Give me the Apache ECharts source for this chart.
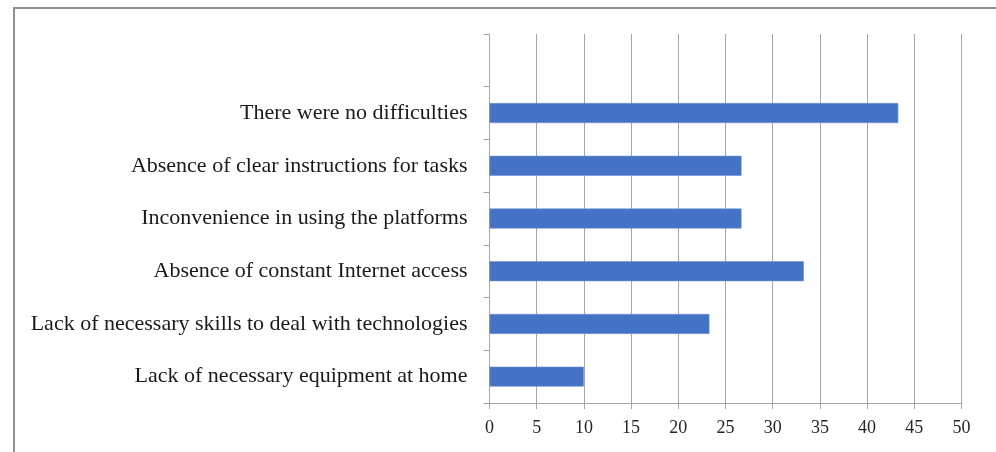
<!DOCTYPE html>
<html>
<head>
<meta charset="utf-8">
<script src="https://cdn.jsdelivr.net/npm/echarts@6/dist/echarts.min.js"></script>
<style>
html,body{margin:0;padding:0;background:#fff;}
#frame{position:absolute;left:13px;top:7px;width:983px;height:445px;border-left:2px solid #8f8f8f;border-top:2px solid #8f8f8f;box-sizing:border-box;}
#chart{position:absolute;left:0;top:0;width:996px;height:452px;}
</style>
</head>
<body>
<div id="frame"></div>
<div id="chart"></div>
<script>
const categories = [
  'Lack of necessary equipment at home',
  'Lack of necessary skills to deal with technologies',
  'Absence of constant Internet access',
  'Inconvenience in using the platforms',
  'Absence of clear instructions for tasks',
  'There were no difficulties',
  ''
];
const values = [10, 23.3, 33.3, 26.7, 26.7, 43.3, null];
const xTicks = [0, 5, 10, 15, 20, 25, 30, 35, 40, 45, 50];

const chart = echarts.init(document.getElementById('chart'), null, {renderer: 'canvas'});
const font = '"Liberation Serif", "DejaVu Serif", serif';
chart.setOption({
  animation: false,
  grid: {left: 489.5, right: 34.5, top: 34, bottom: 49, containLabel: false},
  xAxis: {
    type: 'value',
    min: xTicks[0],
    max: xTicks[xTicks.length - 1],
    interval: 5,
    axisLine: {show: true, lineStyle: {color: '#a6a6a6', width: 1}},
    axisTick: {show: true, length: 6, lineStyle: {color: '#a6a6a6'}},
    splitLine: {show: true, lineStyle: {color: '#a6a6a6', width: 1}},
    axisLabel: {fontFamily: font, fontSize: 18, color: '#262626', margin: 16}
  },
  yAxis: {
    type: 'category',
    data: categories,
    axisLine: {show: true, lineStyle: {color: '#a6a6a6', width: 1}},
    axisTick: {show: true, length: 6, inside: false, lineStyle: {color: '#a6a6a6'}},
    axisLabel: {fontFamily: font, fontSize: 22, color: '#1a1a1a', margin: 22}
  },
  series: [{
    type: 'bar',
    data: values,
    barWidth: 20,
    itemStyle: {color: '#4472C4', borderColor: '#6f93d6', borderWidth: 0.6}
  }]
});
</script>
</body>
</html>
